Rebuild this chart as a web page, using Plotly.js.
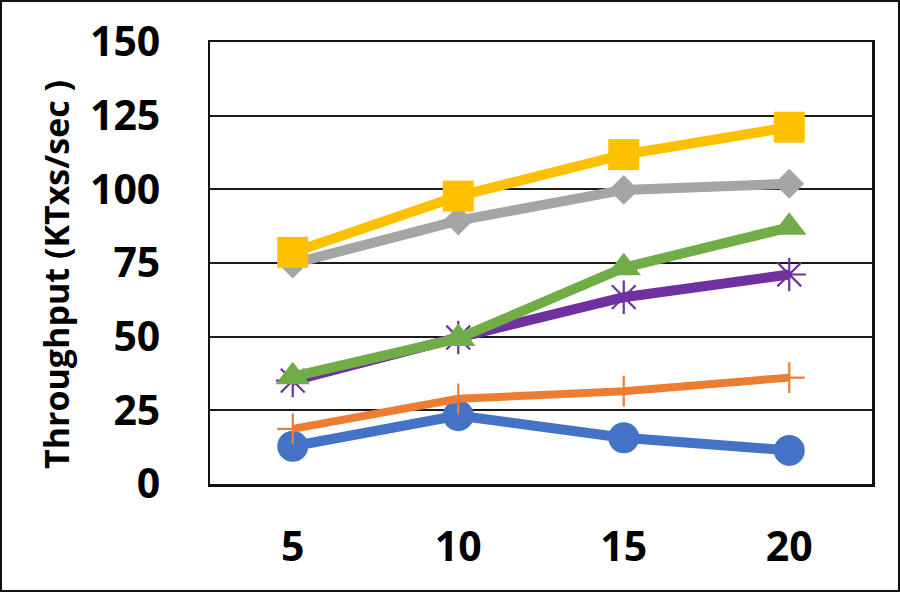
<!DOCTYPE html>
<html>
<head>
<meta charset="utf-8">
<script src="https://cdn.plot.ly/plotly-3.0.1.min.js"></script>
<style>
  html, body { margin: 0; padding: 0; background: #fff; }
  #wrap { position: relative; width: 900px; height: 592px; }
  #chart { width: 900px; height: 592px; }
  #frame { position: absolute; left: 0; top: 0; width: 900px; height: 592px; box-sizing: border-box; border: 2px solid #111; pointer-events: none; }
</style>
</head>
<body>
<div id="wrap"><div id="chart"></div><div id="frame"></div></div>
<script>
const categories = ['5', '10', '15', '20'];
const yTicks = [0, 25, 50, 75, 100, 125, 150];
const yTitle = 'Throughput (KTxs/sec )';

const seriesBlue   = [12.8, 23.2, 15.7, 11.4];
const seriesOrange = [18.7, 28.9, 31.5, 36.1];
const seriesGray   = [74.8, 89.4, 99.8, 101.9];
const seriesYellow = [78.6, 97.7, 111.8, 121.1];
const seriesPurple = [35.1, 49.7, 63.4, 71.1];
const seriesGreen  = [36.4, 49.4, 73.4, 87.1];

function trace(name, y, color, lw, symbol, size, mlw) {
  return {
    type: 'scatter', mode: 'lines+markers', name: name,
    x: categories, y: y,
    line: { color: color, width: lw },
    marker: { symbol: symbol, size: size, color: color, line: { color: color, width: mlw } },
    hoverinfo: 'x+y'
  };
}

const data = [
  trace('Series 1', seriesBlue,   '#4472C4', 10, 'circle', 31, 0),
  trace('Series 2', seriesOrange, '#ED7D31', 8,  'cross-thin-open', 22, 2.2),
  trace('Series 3', seriesGray,   '#A5A5A5', 10, 'diamond', 23, 0),
  trace('Series 4', seriesYellow, '#FFC000', 10, 'square', 31, 0),
  trace('Series 5', seriesPurple, '#7030A0', 10, 'asterisk-open', 28, 2.2),
  trace('Series 6', seriesGreen,  '#70AD47', 10, 'triangle-up', 30, 0)
];

const fontFam = 'Open Sans, Liberation Sans, sans-serif';

const layout = {
  width: 900, height: 592,
  margin: { l: 210, r: 28, t: 42, b: 108, pad: 0 },
  paper_bgcolor: '#fff', plot_bgcolor: '#fff',
  showlegend: false,
  xaxis: {
    type: 'category', range: [-0.5, 3.5],
    tickvals: categories, ticktext: categories,
    showgrid: false, zeroline: false,
    showline: true, mirror: true, linecolor: '#111', linewidth: 2.5,
    ticks: '', ticklabelstandoff: 25,
    tickfont: { family: fontFam, size: 41, color: '#000', weight: 'bold' }
  },
  yaxis: {
    range: [0, 150], tickvals: yTicks, ticktext: yTicks.map(String),
    showgrid: true, gridcolor: '#1a1a1a', gridwidth: 1.8,
    zeroline: false,
    showline: true, mirror: true, linecolor: '#111', linewidth: 2.5,
    ticks: '', ticklabelstandoff: 39,
    tickfont: { family: fontFam, size: 41, color: '#000', weight: 'bold' }
  },
  annotations: [{
    text: yTitle, xref: 'paper', yref: 'paper',
    x: (56 - 210) / 662, y: (592 - 108 - 275) / 442,
    xanchor: 'center', yanchor: 'middle', textangle: -90, showarrow: false,
    font: { family: fontFam, size: 34, color: '#000', weight: 'bold' }
  }]
};

Plotly.newPlot('chart', data, layout, { displayModeBar: false, staticPlot: true });
</script>
</body>
</html>
